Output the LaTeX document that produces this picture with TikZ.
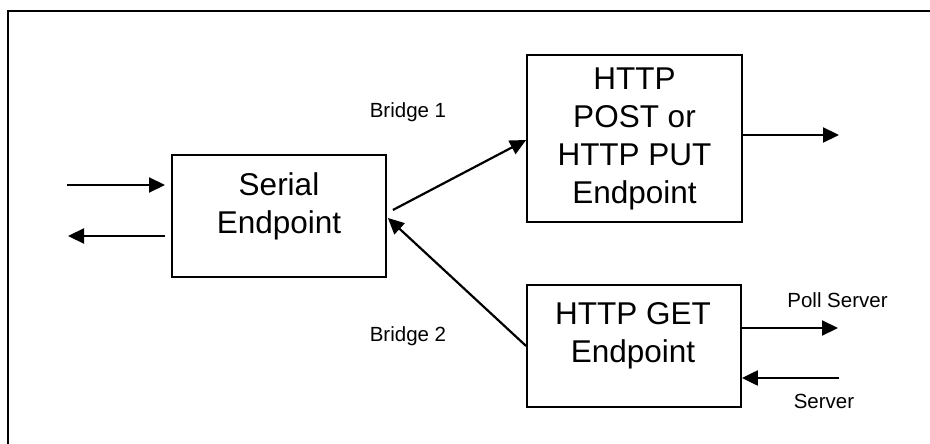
\documentclass[tikz,border=0pt]{standalone}
\usepackage{fontspec}
\setmainfont{Liberation Sans}
\usetikzlibrary{arrows.meta,calc}

\tikzset{
  box/.style={draw=black, line width=1.8pt, fill=white, inner sep=0pt},
  bigtext/.style={align=center, inner sep=0pt, font=\fontsize{31.5}{38}\selectfont},
  smalltext/.style={inner sep=0pt, font=\fontsize{20.5}{24}\selectfont},
  conn/.style={line width=2.2pt, -{Triangle[length=16,width=15]}},
}

\begin{document}
\begin{tikzpicture}[x=1pt, y=-1pt]
  \useasboundingbox (0,0) rectangle (930,444);

  % outer frame: only its top and left sides fall inside the page
  \coordinate (frameTR) at (930,11);
  \coordinate (frameTL) at (8,11);
  \coordinate (frameBL) at (8,444);
  \draw[line width=2.5pt, line cap=rect] (frameTR) -- (frameTL) -- (frameBL);

  % boxes
  \node[box, minimum width=214, minimum height=122] (serial) at (279,216) {};
  \node[box, minimum width=215, minimum height=167] (post) at (634.5,138.5) {};
  \node[box, minimum width=214, minimum height=122] (get) at (634,346) {};

  % box texts
  \node[bigtext] (serialtxt) at (279,206) {Serial\\Endpoint};
  \node[bigtext] (posttxt) at (634.5,138.5) {HTTP\\POST or\\HTTP PUT\\Endpoint};
  \node[bigtext] (gettxt) at (633,336) {HTTP GET\\Endpoint};

  % connector labels
  \node[smalltext] (b1) at (408,112) {Bridge 1};
  \node[smalltext] (b2) at (408,336) {Bridge 2};
  \node[smalltext] (poll) at (837.5,300) {Poll Server};
  \node[smalltext] (srv) at (824,401) {Server};

  % free ends of the outer connectors
  \coordinate (inA)   at (67,185);
  \coordinate (inB)   at (165,185);
  \coordinate (outA)  at (165,236);
  \coordinate (outB)  at (68,236);
  \coordinate (postout) at (839,135);
  \coordinate (pollend) at (838,328);
  \coordinate (srvstart) at (839,378);

  % serial side
  \draw[conn] (inA) -- (inB);
  \draw[conn] (outA) -- (outB);

  % bridges
  \draw[conn] ($(serial.east)+(6,-6)$) -- ($(post.west)+(0,1.5)$);
  \draw[conn] (get.west) -- ($(serial.east)+(1,2)$);

  % http side
  \draw[conn] (post.east |- postout) -- (postout);
  \draw[conn] (get.east |- pollend) -- (pollend);
  \draw[conn] (srvstart) -- (get.east |- srvstart);
\end{tikzpicture}
\end{document}
